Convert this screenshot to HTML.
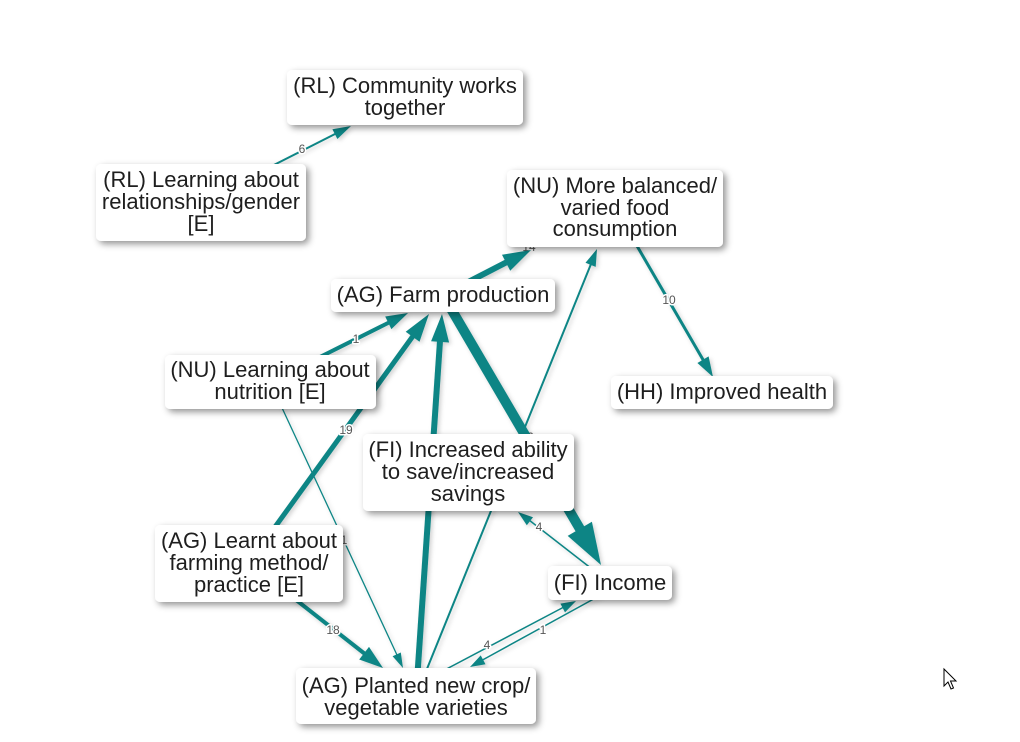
<!DOCTYPE html>
<html>
<head>
<meta charset="utf-8">
<style>
  html,body{margin:0;padding:0;background:#fff;}
  svg{display:block;}
  .nt{font-family:"Liberation Sans",Arial,sans-serif;font-size:22px;fill:#1e1e1e;text-anchor:middle;}
  .lb{font-family:"Liberation Sans",Arial,sans-serif;font-size:12px;fill:#555;text-anchor:middle;paint-order:stroke;stroke:#fff;stroke-width:3px;stroke-linejoin:round;}
  .e{stroke:#0c8585;fill:none;stroke-linecap:butt;}
  .h{fill:#0c8585;}
</style>
</head>
<body>
<svg width="1020" height="742" viewBox="0 0 1020 742" xmlns="http://www.w3.org/2000/svg">
  <defs>
    <filter id="ns" x="-20%" y="-30%" width="140%" height="170%">
      <feDropShadow dx="3" dy="3" stdDeviation="3.5" flood-color="#000" flood-opacity="0.42"/>
    </filter>
    <filter id="es" x="-20%" y="-20%" width="140%" height="140%">
      <feDropShadow dx="2" dy="2" stdDeviation="2" flood-color="#000" flood-opacity="0.18"/>
    </filter>
  </defs>

  <!-- hidden labels (under edges) -->
  <text class="lb" x="529" y="251">14</text>
  <text class="lb" x="527" y="441">16</text>

  <g filter="url(#es)">
    <line class="e" stroke-width="2" x1="201" y1="202" x2="336" y2="133.5"/>
    <polygon class="h" points="351,126 337.4,139 332.4,129.2"/>
    <line class="e" stroke-width="6" x1="443" y1="295" x2="507" y2="262"/>
    <polygon class="h" points="531,250 510.2,270.7 502,254.7"/>
    <line class="e" stroke-width="4" x1="270" y1="382" x2="389" y2="322.5"/>
    <polygon class="h" points="408,313 391.4,329.1 385.2,316.5"/>
    <line class="e" stroke-width="5" x1="249" y1="563" x2="413" y2="336"/>
    <polygon class="h" points="429,314 419.5,341.7 405.7,331.7"/>
    <line class="e" stroke-width="6" x1="416" y1="696" x2="440" y2="341"/>
    <polygon class="h" points="442,314 449.1,342.5 431.1,341.3"/>
    <line class="e" stroke-width="10" x1="443" y1="295" x2="580" y2="529"/>
    <polygon class="h" points="601,565 591.9,521.7 567.7,535.9"/>
    <line class="e" stroke-width="2" x1="416" y1="696" x2="591" y2="264"/>
    <polygon class="h" points="597,249 595.7,266.9 585.5,262.7"/>
    <line class="e" stroke-width="1.3" x1="270" y1="382" x2="397" y2="655"/>
    <polygon class="h" points="403,668 400.8,652.5 392.6,656.3"/>
    <line class="e" stroke-width="4" x1="249" y1="563" x2="365" y2="654"/>
    <polygon class="h" points="383,668 369,646.9 359.2,659.5"/>
    <line class="e" stroke-width="1.5" x1="610" y1="583" x2="529" y2="520"/>
    <polygon class="h" points="518,512 533,517.2 526.8,525.2"/>
    <line class="e" stroke-width="1.5" x1="420" y1="683" x2="563" y2="607.5"/>
    <polygon class="h" points="576,601 565,612.4 560.4,603.6"/>
    <line class="e" stroke-width="1.5" x1="610" y1="590" x2="482.5" y2="660"/>
    <polygon class="h" points="470,667 485.5,664.2 480.7,655.4"/>
    <line class="e" stroke-width="3" x1="615" y1="208" x2="703.5" y2="360.5"/>
    <polygon class="h" points="713,377 708.6,356.4 697.4,363"/>
  </g>

  <text class="lb" x="302" y="153">6</text>
  <text class="lb" x="356" y="343">1</text>
  <text class="lb" x="346" y="434">19</text>
  <text class="lb" x="344" y="544">1</text>
  <text class="lb" x="333" y="634">18</text>
  <text class="lb" x="539" y="531">4</text>
  <text class="lb" x="487" y="649">4</text>
  <text class="lb" x="543" y="634">1</text>
  <text class="lb" x="669" y="304">10</text>

  <g filter="url(#ns)" fill="#fff">
    <rect x="287" y="70" width="236" height="55" rx="5"/>
    <rect x="96" y="164" width="210" height="77" rx="5"/>
    <rect x="507" y="170" width="216" height="77" rx="5"/>
    <rect x="331" y="279" width="224" height="33" rx="5"/>
    <rect x="165" y="355" width="211" height="54" rx="5"/>
    <rect x="611" y="376" width="222" height="33" rx="5"/>
    <rect x="363" y="434" width="211" height="77" rx="5"/>
    <rect x="155" y="525" width="188" height="77" rx="5"/>
    <rect x="548" y="566" width="124" height="34" rx="5"/>
    <rect x="296" y="668" width="240" height="56" rx="5"/>
  </g>

  <text class="nt" x="405" y="93">(RL) Community works</text>
  <text class="nt" x="405" y="115">together</text>

  <text class="nt" x="201" y="187">(RL) Learning about</text>
  <text class="nt" x="201" y="209">relationships/gender</text>
  <text class="nt" x="201" y="231">[E]</text>

  <text class="nt" x="615" y="193">(NU) More balanced/</text>
  <text class="nt" x="615" y="215">varied food</text>
  <text class="nt" x="615" y="236">consumption</text>

  <text class="nt" x="443" y="302">(AG) Farm production</text>

  <text class="nt" x="270" y="377">(NU) Learning about</text>
  <text class="nt" x="270" y="399">nutrition [E]</text>

  <text class="nt" x="722" y="399">(HH) Improved health</text>

  <text class="nt" x="468" y="457">(FI) Increased ability</text>
  <text class="nt" x="468" y="479">to save/increased</text>
  <text class="nt" x="468" y="501">savings</text>

  <text class="nt" x="249" y="548">(AG) Learnt about</text>
  <text class="nt" x="249" y="570">farming method/</text>
  <text class="nt" x="249" y="592">practice [E]</text>

  <text class="nt" x="610" y="590">(FI) Income</text>

  <text class="nt" x="416" y="693">(AG) Planted new crop/</text>
  <text class="nt" x="416" y="715">vegetable varieties</text>

  <polygon points="944,669 944,686 948,682 951,689 953.5,688 950.5,681 956,681" fill="#fff" stroke="#000" stroke-width="1"/>
</svg>
</body>
</html>
